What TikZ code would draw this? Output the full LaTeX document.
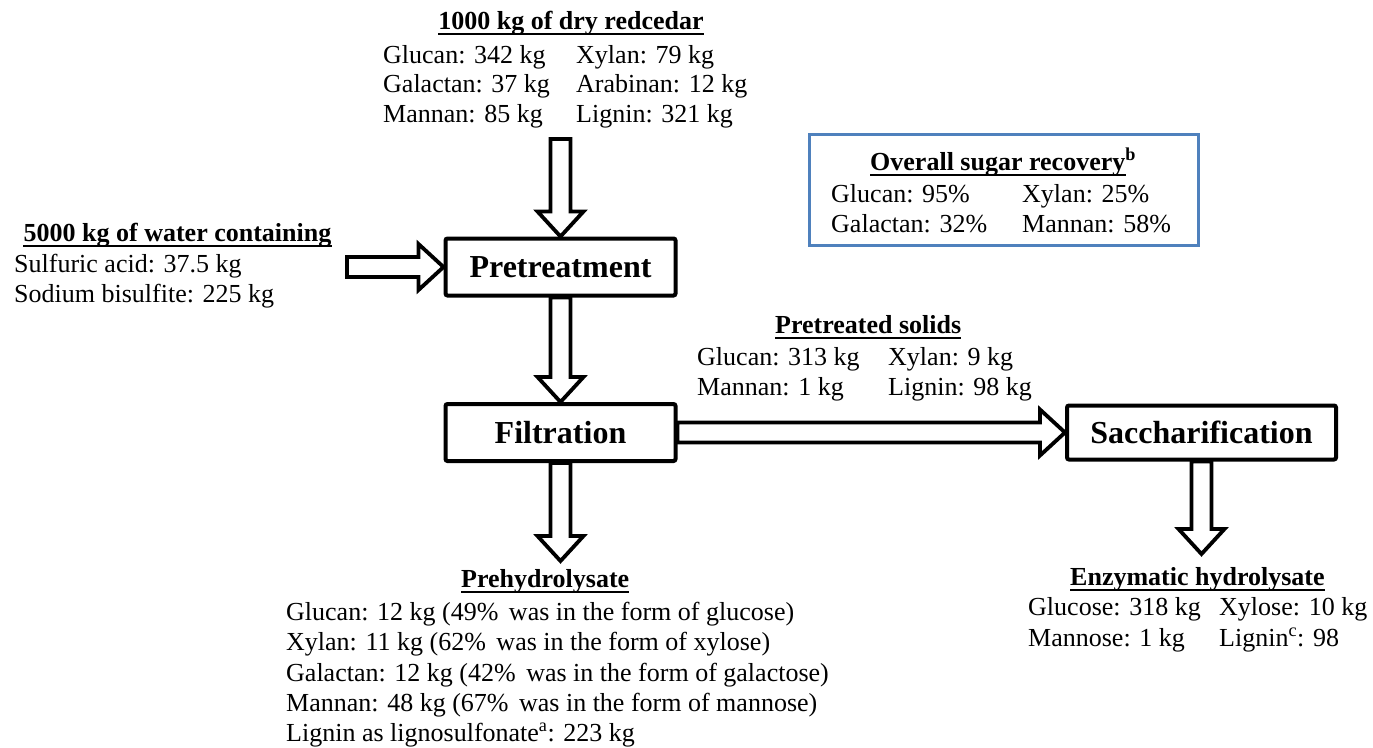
\documentclass[tikz,border=0pt]{standalone}
\usepackage{fontspec}
\setmainfont{Liberation Serif}
\usetikzlibrary{calc}
\definecolor{boxblue}{RGB}{79,129,189}
\newcommand\ulnode[1]{\draw[ul] ([yshift=-5pt]#1.base west) -- ([yshift=-5pt]#1.base east);}
\begin{document}
\begin{tikzpicture}[x=1pt,y=-1pt,
 txt/.style={inner sep=0pt, anchor=base west, font=\fontsize{26}{30}\selectfont},
 ttl/.style={inner sep=0pt, anchor=base west, font=\fontsize{26}{30}\selectfont\bfseries},
 proc/.style={draw, line width=4pt, rounded corners=2pt, inner sep=0pt, font=\fontsize{32}{36}\selectfont\bfseries},
 ul/.style={line width=2pt},
 arrowline/.style={line width=3.8pt, line join=miter},
 varrow/.style={to path={
   ($(\tikztostart)+(-10,0)$) -- ($(\tikztotarget)+(-10,-25)$) -- ($(\tikztotarget)+(-23,-25)$) -- (\tikztotarget)
   -- ($(\tikztotarget)+(23,-25)$) -- ($(\tikztotarget)+(10,-25)$) -- ($(\tikztostart)+(10,0)$) -- cycle}},
 harrow/.style={to path={
   ($(\tikztostart)+(0,-10)$) -- ($(\tikztotarget)+(-25,-10)$) -- ($(\tikztotarget)+(-25,-23)$) -- (\tikztotarget)
   -- ($(\tikztotarget)+(-25,23)$) -- ($(\tikztotarget)+(-25,10)$) -- ($(\tikztostart)+(0,10)$) -- cycle}},
]
\useasboundingbox (0,0) rectangle (1373,747);

% process boxes
\node[proc, minimum width=230pt, minimum height=57pt] (pre) at (560.5,267) {Pretreatment};
\node[proc, minimum width=230pt, minimum height=57pt] (fil) at (560.5,432.5) {Filtration};
\node[proc, minimum width=269pt, minimum height=54pt] (sac) at (1201.5,432.5) {Saccharification};

% recovery box
\node[draw=boxblue, line width=3pt, minimum width=389pt, minimum height=111pt, inner sep=0pt] (recbox) at (1004,190) {};

% redcedar
\node[ttl, anchor=base] (t1) at (571,29) {1000 kg of dry redcedar};
\ulnode{t1}
\node[txt] (t1a) at (383,63) {Glucan: 342 kg};
\node[txt] (t1b) at (576,63) {Xylan: 79 kg};
\node[txt] (t1c) at (383,92.5) {Galactan: 37 kg};
\node[txt] (t1d) at (576,92.5) {Arabinan: 12 kg};
\node[txt] (t1e) at (383,122) {Mannan: 85 kg};
\node[txt] (t1f) at (576,122) {Lignin: 321 kg};

% water
\node[ttl, anchor=base] (t2) at (177.5,241) {5000 kg of water containing};
\ulnode{t2}
\node[txt] (t2a) at (14,272) {Sulfuric acid: 37.5 kg};
\node[txt] (t2b) at (14,302) {Sodium bisulfite: 225 kg};

% overall recovery
\node[ttl] (t3) at (870,170) {Overall sugar recovery\rlap{\textsuperscript{b}}};
\ulnode{t3}
\node[txt] (t3a) at (831,202) {Glucan: 95\%};
\node[txt] (t3b) at (1022,202) {Xylan: 25\%};
\node[txt] (t3c) at (831,232) {Galactan: 32\%};
\node[txt] (t3d) at (1022,232) {Mannan: 58\%};

% pretreated solids
\node[ttl] (t4) at (775,333) {Pretreated solids};
\ulnode{t4}
\node[txt] (t4a) at (697,365) {Glucan: 313 kg};
\node[txt] (t4b) at (888,365) {Xylan: 9 kg};
\node[txt] (t4c) at (697,395) {Mannan: 1 kg};
\node[txt] (t4d) at (888,395) {Lignin: 98 kg};

% prehydrolysate
\node[ttl] (t5) at (461,587) {Prehydrolysate};
\ulnode{t5}
\node[txt] (t5a) at (286,620) {Glucan: 12 kg (49\%\hspace{4pt} was in the form of glucose)};
\node[txt] (t5b) at (286,650.5) {Xylan: 11 kg (62\%\hspace{4pt} was in the form of xylose)};
\node[txt] (t5c) at (286,681) {Galactan: 12 kg (42\%\hspace{4pt} was in the form of galactose)};
\node[txt] (t5d) at (286,711) {Mannan: 48 kg (67\%\hspace{4pt} was in the form of mannose)};
\node[txt] (t5e) at (286,741) {Lignin as lignosulfonate\textsuperscript{a}: 223 kg};

% enzymatic hydrolysate
\node[ttl] (t6) at (1070,585) {Enzymatic hydrolysate};
\ulnode{t6}
\node[txt] (t6a) at (1028,615) {Glucose: 318 kg};
\node[txt] (t6b) at (1219,615) {Xylose: 10 kg};
\node[txt] (t6c) at (1028,646) {Mannose: 1 kg};
\node[txt] (t6d) at (1219,646) {Lignin\textsuperscript{c}: 98};

% arrow end points
\coordinate (topin) at (560.5,139);
\coordinate (leftin) at (347,267);
\coordinate (preend) at (560.5,561);
\coordinate (enzend) at (1201.5,554);

% block arrows
\draw[arrowline] (topin) to[varrow] (pre.north);
\draw[arrowline] (leftin) to[harrow] (pre.west);
\draw[arrowline] (pre.south) to[varrow] (fil.north);
\draw[arrowline] (fil.south) to[varrow] (preend);
\draw[arrowline] (fil.east) to[harrow] (sac.west);
\draw[arrowline] (sac.south) to[varrow] (enzend);
\end{tikzpicture}
\end{document}
